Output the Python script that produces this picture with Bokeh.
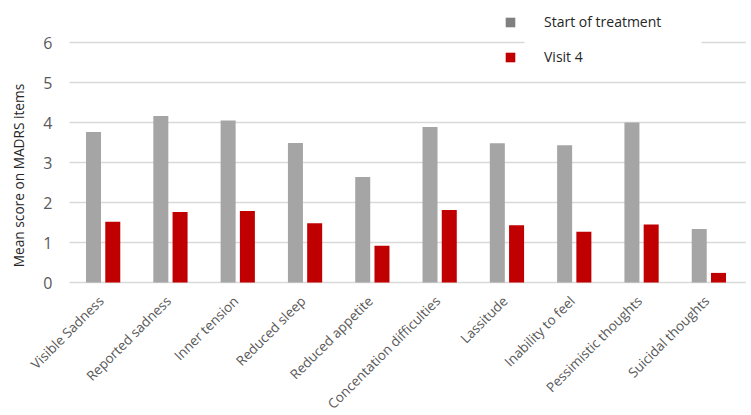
import math
from bokeh.plotting import figure
from bokeh.models import Range1d, Legend, LegendItem, BoxAnnotation, ColumnDataSource
from bokeh.transform import dodge
from bokeh.core.properties import value
from bokeh.embed import file_html
from bokeh.resources import INLINE

# MADRS item scores
items = [
    "Visible Sadness", "Reported sadness", "Inner tension", "Reduced sleep",
    "Reduced appetite", "Concentation difficulties", "Lassitude",
    "Inability to feel", "Pessimistic thoughts", "Suicidal thoughts",
]
start_of_treatment = [3.76, 4.16, 4.05, 3.49, 2.64, 3.89, 3.48, 3.43, 4.00, 1.34]
visit_4 = [1.52, 1.76, 1.79, 1.48, 0.92, 1.81, 1.43, 1.27, 1.45, 0.24]
y_ticks = [0, 1, 2, 3, 4, 5, 6]

GREY = "#A5A5A5"
RED = "#C00000"
TXT = "#595959"
FONT = value("Open Sans")

W, H = 751, 415
# the plot area fills the whole canvas; axis texts are drawn as glyphs
X_PX, Y_PX = 67.3, 40.0           # pixels per category / per score point
x_start = -69 / X_PX
y_end = 6 + 42 / Y_PX

centers = [i + 0.5 for i in range(len(items))]
source = ColumnDataSource(data=dict(item=items, x=centers,
                                    start=start_of_treatment, visit=visit_4))

p = figure(
    width=W, height=H,
    x_range=Range1d(x_start, x_start + W / X_PX),
    y_range=Range1d(y_end - H / Y_PX, y_end),
    output_backend="svg", toolbar_location=None,
    min_border=0,
)
p.outline_line_color = None
p.background_fill_color = "white"
p.border_fill_color = "white"
p.xaxis.visible = False
p.yaxis.visible = False
p.grid.visible = False

# horizontal gridlines across the category span
p.segment(x0=0, x1=len(items) + 0.05, y0=y_ticks, y1=y_ticks,
          line_color="#D9D9D9", line_width=1.3)

bar_w = 0.223
p.vbar(x=dodge("x", -0.143), top="start", width=bar_w,
       source=source, fill_color=GREY, line_color=None)
p.vbar(x=dodge("x", 0.143), top="visit", width=bar_w,
       source=source, fill_color=RED, line_color=None)

# y tick labels
p.text(x=0, y=y_ticks, text=[str(t) for t in y_ticks], x_offset=-17,
       text_align="right", text_baseline="middle",
       text_font=FONT, text_font_size="16px", text_color=TXT)

# slanted category names under each group
p.text(x="x", y=0, text="item", source=source, x_offset=-2, y_offset=16,
       angle=math.pi / 4, text_align="right", text_baseline="middle",
       text_font=FONT, text_font_size="13.5px", text_color=TXT)

# y-axis title
p.text(x=0, y=0, text=["Mean score on MADRS items"], x_offset=-51, y_offset=-107,
       angle=math.pi / 2, text_align="center", text_baseline="middle",
       text_font=FONT, text_font_size="13.7px", text_color="#262626")

# white patch behind the legend, interrupting the top gridline
p.add_layout(BoxAnnotation(left=6.76, right=9.39, bottom=5.9, top=6.15,
                           fill_color="white", fill_alpha=1.0, line_color=None))

# legend swatches (zero-height bars) use a darker grey than the bars
leg_src = ColumnDataSource(data=dict(x=[0.5], top=[0]))
leg_start = p.vbar(x="x", top="top", width=0.0, source=leg_src,
                   fill_color="#808080", line_color=None)
leg_visit = p.vbar(x="x", top="top", width=0.0, source=leg_src,
                   fill_color=RED, line_color=None)
legend = Legend(
    items=[LegendItem(label="Start of treatment", renderers=[leg_start]),
           LegendItem(label="Visit 4", renderers=[leg_visit])],
    location=(504, 349),
    orientation="vertical",
    glyph_width=12, glyph_height=12,
    label_standoff=28,
    spacing=16,
    padding=0, margin=0,
    border_line_color=None,
    background_fill_alpha=0,
    label_text_font="Open Sans", label_text_font_size="14px",
    label_text_color="#262626",
)
p.add_layout(legend, "center")

open("out.html", "w").write(file_html(p, INLINE))
